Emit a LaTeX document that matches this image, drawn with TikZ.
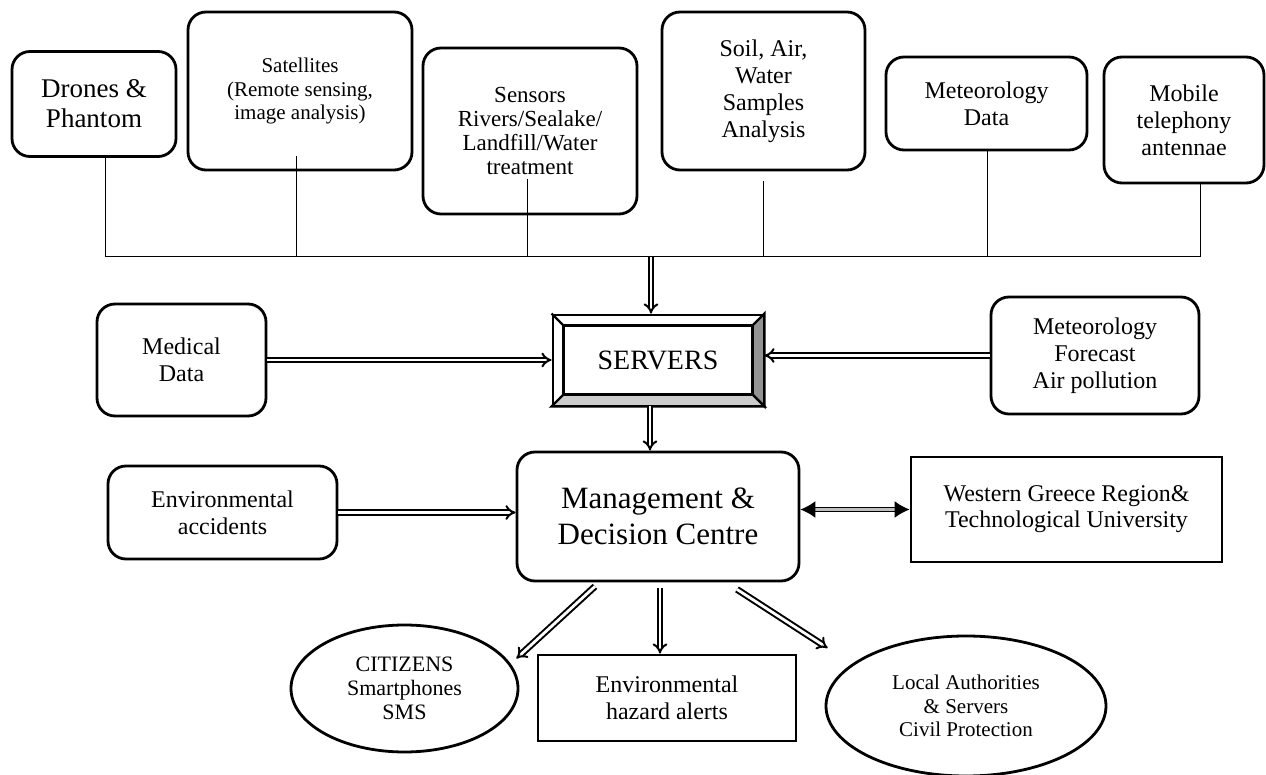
\documentclass[tikz,border=0pt]{standalone}
\usepackage{fontspec}
\setmainfont{Liberation Serif}
\usetikzlibrary{arrows.meta,shapes.geometric,calc}

\begin{document}
\begin{tikzpicture}[x=0.5pt,y=-0.5pt,
    rbox/.style={draw,line width=1.4pt,rounded corners=9pt,align=center,inner sep=0pt},
    sbox/.style={draw,line width=1.4pt,align=center,inner sep=0pt},
    oval/.style={draw,ellipse,line width=1.4pt,align=center,inner sep=0pt},
    feed/.style={line width=0.5pt},
    dbl/.style={double,double distance=1.4pt,line width=1pt,-{Implies}},
    both/.style={double=gray!50,double distance=1.2pt,line width=0.85pt,{Latex[length=7.5pt,width=8.5pt]}-{Latex[length=7.5pt,width=8.5pt]}},
    fa/.style={font=\fontsize{10.5pt}{11.8pt}\selectfont},
    fb/.style={font=\fontsize{11.5pt}{12pt}\selectfont},
    fc/.style={font=\fontsize{12pt}{13.5pt}\selectfont},
    fd/.style={font=\fontsize{13.5pt}{15pt}\selectfont},
    fe/.style={font=\fontsize{15.5pt}{18pt}\selectfont}]
    \useasboundingbox (0,0) rectangle (1266,775);
    % sources on top
    \node[rbox,fd,minimum width=82pt,minimum height=52.5pt] (drn) at (94,104) {Drones \&\\Phantom};
    \node[rbox,fa,minimum width=112pt,minimum height=79pt] (sat) at (300,91) {Satellites\\(Remote sensing,\\image analysis)};
    \node[rbox,fb,minimum width=107pt,minimum height=83pt] (sen) at (530,131) {Sensors\\Rivers/Sealake/\\Landfill/Water\\treatment};
    \node[rbox,fc,minimum width=101.5pt,minimum height=79pt] (soil) at (763.5,91) {Soil, Air,\\Water\\Samples\\Analysis};
    \node[rbox,fc,minimum width=100.5pt,minimum height=46.5pt] (met) at (986.5,103.5) {Meteorology\\Data};
    \node[rbox,fc,minimum width=80pt,minimum height=63pt] (mob) at (1184,120) {Mobile\\telephony\\antennae};
    % collecting line
    \coordinate (b1) at (105,257);
    \coordinate (b2) at (296,257);
    \coordinate (b3) at (527,257);
    \coordinate (b4) at (763,257);
    \coordinate (b5) at (987,257);
    \coordinate (b6) at (1200,257);
    \coordinate (bs) at (651,257);
    \coordinate (sm) at (650,405);
    \draw[feed] (drn.south -| b1) -- (b1);
    \draw[feed] ($(sat.south -| b2)+(0,-15)$) -- (b2);
    \draw[feed] ($(sen.south -| b3)+(0,-36)$) -- (b3);
    \draw[feed] ($(soil.south -| b4)+(0,10)$) -- (b4);
    \draw[feed] (met.south -| b5) -- (b5);
    \draw[feed] (mob.south -| b6) -- (b6);
    \draw[feed] (b1) -- (b6);
    % servers
    \node[sbox,font=\fontsize{14pt}{16pt}\selectfont,minimum width=105pt,minimum height=45pt] (srv) at (658,360) {SERVERS};
    \filldraw[fill=gray!85,line width=1.2pt] (srv.north east) -- (srv.south east) -- ($(srv.south east)+(-12,-12)$) -- ($(srv.north east)+(-12,12)$) -- cycle;
    \filldraw[fill=gray!40,line width=1.2pt] (srv.south west) -- (srv.south east) -- ($(srv.south east)+(-12,-12)$) -- ($(srv.south west)+(12,-12)$) -- cycle;
    \draw[line width=1.2pt] (srv.north west) -- ($(srv.north west)+(12,12)$);
    \draw[line width=1.2pt] ($(srv.north west)+(12,12)$) rectangle ($(srv.south east)+(-12,-12)$);
    \node[rbox,fc,minimum width=84.5pt,minimum height=56pt] (med) at (181.5,360) {Medical\\Data};
    \node[rbox,fc,minimum width=104pt,minimum height=58.5pt] (mfc) at (1095,355.5) {Meteorology\\Forecast\\Air pollution};
    % centre
    \node[rbox,fe,minimum width=141pt,minimum height=64.5pt] (mdc) at (658,516.5) {Management \&\\Decision Centre};
    \node[rbox,fc,minimum width=114.5pt,minimum height=46.5pt] (acc) at (222.5,512.5) {Environmental\\accidents};
    \node[sbox,font=\fontsize{12pt}{13pt}\selectfont,minimum width=155.5pt,minimum height=52.5pt] (wgr) at (1066.5,509.5) {Western Greece Region\&\\Technological University};
    % receivers
    \node[oval,font=\fontsize{11pt}{12pt}\selectfont,minimum width=113.5pt,minimum height=63.5pt] (cit) at (404.5,688.5) {CITIZENS\\Smartphones\\SMS};
    \node[sbox,fc,minimum width=129pt,minimum height=43pt] (haz) at (667,698) {Environmental\\hazard alerts};
    \node[oval,fa,minimum width=140pt,minimum height=70pt] (loc) at (966,706) {Local Authorities\\\& Servers\\Civil Protection};
    \coordinate (ma) at (660,588);
    % arrows
    \path (bs) edge[dbl] (srv.north -| bs);
    \path (med) edge[dbl] (srv);
    \path (mfc.west) edge[dbl] (srv.east |- mfc.west);
    \path (srv.south -| sm) edge[dbl] (mdc.north -| sm);
    \path (acc.east) edge[dbl] (mdc.west |- acc.east);
    \path (mdc.east |- wgr.west) edge[both] (wgr.west);
    \path ($(mdc.south)+(-63,4)$) edge[dbl] ($(cit.east)+(-3,-30)$);
    \path (ma) edge[dbl] (haz.north -| ma);
    \path ($(mdc.south)+(79,7)$) edge[dbl] ($(loc.west)+(3,-58)$);
\end{tikzpicture}
\end{document}
